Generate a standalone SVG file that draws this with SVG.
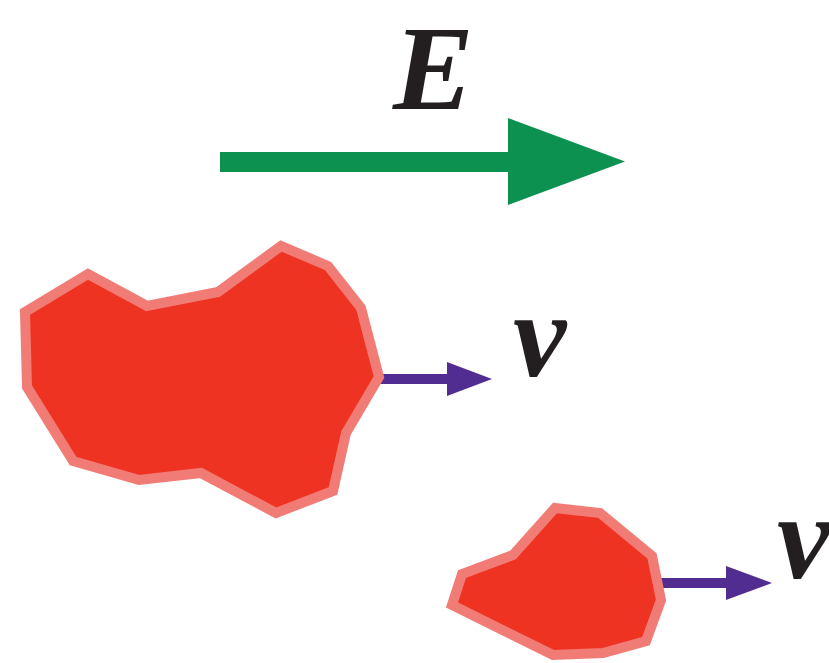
<svg xmlns="http://www.w3.org/2000/svg" width="829" height="663" viewBox="0 0 829 663">
<style>
.blob{fill:#EF3323;stroke:#F17C76;stroke-width:10;stroke-linejoin:miter}
.lbl{font-family:"Liberation Serif","DejaVu Serif",serif;font-weight:bold;font-style:italic;fill:#231F20}
.vline{stroke:#522D91;stroke-width:10;fill:none}
.vhead{fill:#522D91}
</style>
<rect width="829" height="663" fill="#fff"/>
<g id="connectors">
<g id="E-arrow">
<line x1="220" y1="162" x2="510" y2="162" stroke="#0C9150" stroke-width="20"/>
<polygon points="508,118 625,161.5 508,205" fill="#0C9150"/>
</g>
<g id="v-arrow-1">
<line class="vline" x1="378" y1="379" x2="449" y2="379"/>
<polygon class="vhead" points="447,362 492,379 447,396"/>
</g>
<g id="v-arrow-2">
<line class="vline" x1="660" y1="583" x2="728" y2="583"/>
<polygon class="vhead" points="726,566 772,583 726,600"/>
</g>
</g>
<g id="label-E"><text class="lbl" x="393" y="109" font-size="121">E</text></g>
<g id="blob-large">
<polygon class="blob" points="25,312 88,274 147,306 218,292 281,246 328,266 361,308 379,377 346,433 333,491 276,513 201,473 139,480 73,461 27,387"/>
</g>
<g id="label-v1"><text class="lbl" x="513" y="376" font-size="120">v</text></g>
<g id="blob-small">
<polygon class="blob" points="555,508 600,513 652,556 661,600 646,641 603,653 553,655 452,605 462,574 513,555"/>
</g>
<g id="label-v2"><text class="lbl" x="777" y="578" font-size="120">v</text></g>
</svg>
